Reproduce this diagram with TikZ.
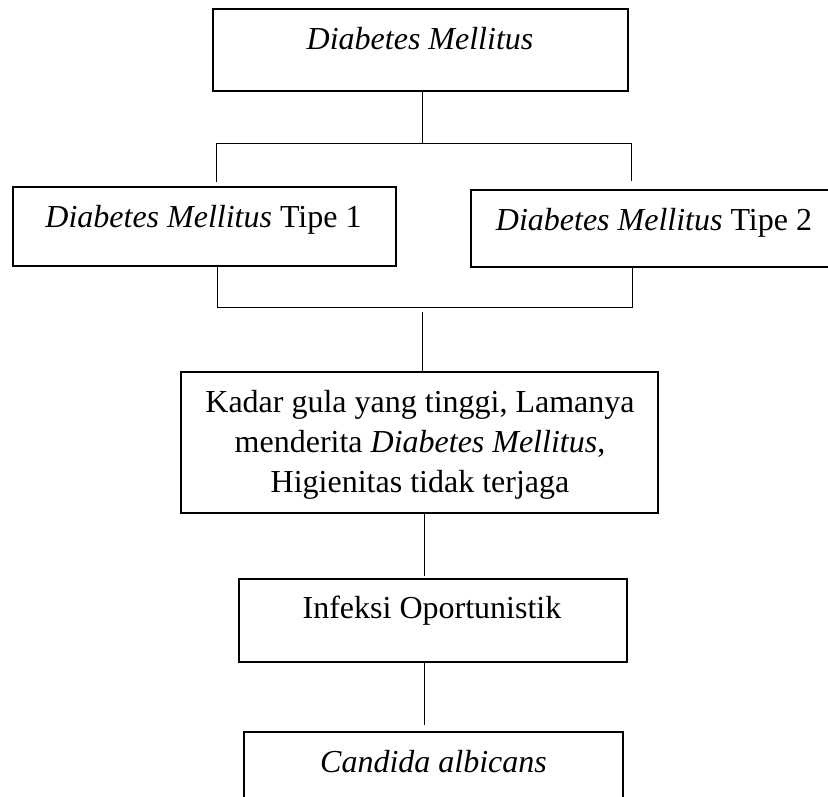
\documentclass[tikz,border=0pt]{standalone}
\usepackage{fontspec}
\setmainfont{Liberation Serif}
\begin{document}
\begin{tikzpicture}[x=1pt,y=-1pt,
  box/.style={draw, line width=1.8pt, inner sep=0pt, rectangle},
  txt/.style={inner sep=0pt, anchor=base, font=\fontsize{32}{40}\selectfont},
  conn/.style={line width=0.9pt}]
\useasboundingbox (0,0) rectangle (828,797);
\clip (0,0) rectangle (828,797);
% boxes
\node[box, minimum width=415pt, minimum height=82pt] (top) at (420.5,50) {};
\node[box, minimum width=383pt, minimum height=79pt] (lbox) at (204.5,226.5) {};
\node[box, minimum width=366pt, minimum height=77pt] (rbox) at (654,228.5) {};
\node[box, minimum width=477pt, minimum height=141pt] (mid) at (419.5,442.5) {};
\node[box, minimum width=388pt, minimum height=83pt] (inf) at (433,620.5) {};
\node[box, minimum width=379pt, minimum height=83pt] (cand) at (433.5,773.5) {};
% texts
\node[txt] (toptxt) at (420,50) {\textit{Diabetes Mellitus}};
\node[txt] (ltxt) at (203.5,228) {\textit{Diabetes Mellitus} Tipe 1};
\node[txt] (rtxt) at (654,230) {\textit{Diabetes Mellitus} Tipe 2};
\node[txt] (mid1) at (420,412) {Kadar gula yang tinggi, Lamanya};
\node[txt] (mid2) at (420,452) {menderita \textit{Diabetes Mellitus},};
\node[txt] (mid3) at (420,492) {Higienitas tidak terjaga};
\node[txt] (inftxt) at (432,618) {Infeksi Oportunistik};
\node[txt] (candtxt) at (433.5,772) {\textit{Candida albicans}};
% junction coordinates
\coordinate (tc) at (422,143);
\coordinate (tl) at (216,143);
\coordinate (tr) at (631,143);
\coordinate (bl) at (217,307);
\coordinate (br) at (632,307);
\coordinate (bc) at (422,312);
\coordinate (lc) at (424,0);
% connectors
\draw[conn] (top.south -| tc) -- (tc);
\draw[conn, shorten <=4pt, shorten >=8pt] (lbox.north -| tl) -- (tl) -- (tr) -- (rbox.north -| tr);
\draw[conn] (lbox.south -| bl) -- (bl) -- (br) -- (rbox.south -| br);
\draw[conn] (bc) -- (mid.north -| bc);
\draw[conn, shorten >=2pt] (mid.south -| lc) -- (inf.north -| lc);
\draw[conn, shorten >=6pt] (inf.south -| lc) -- (cand.north -| lc);
\end{tikzpicture}
\end{document}
